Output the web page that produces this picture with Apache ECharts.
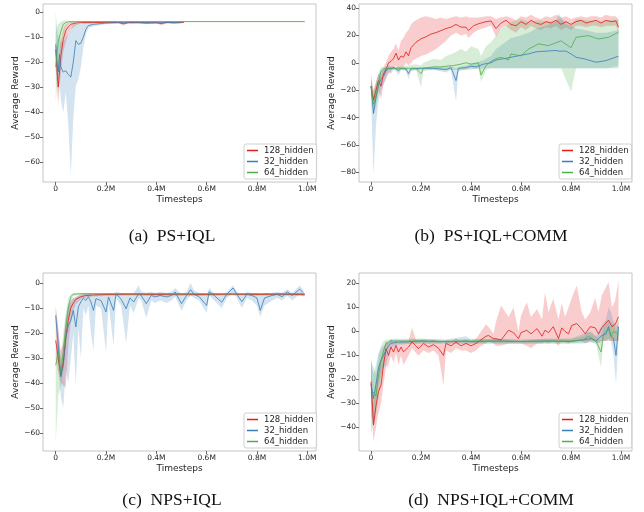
<!DOCTYPE html>
<html><head><meta charset="utf-8">
<script src="https://cdn.jsdelivr.net/npm/echarts@6/dist/echarts.min.js"></script>
<style>html,body{margin:0;padding:0;background:#fff}#c{width:644px;height:512px}</style>
</head><body><div id="c"></div>
<script>
const NAMES = ['128_hidden', '32_hidden', '64_hidden'];
const COLORS = ['#e41a1c', '#377eb8', '#4daf4a'];
const BAND_COLORS = ['rgba(228,26,28,0.22)', 'rgba(55,126,184,0.22)', 'rgba(77,175,74,0.22)'];
const CAPTIONS = ['(a)\u2002PS+IQL', '(b)\u2002PS+IQL+COMM', '(c)\u2002NPS+IQL', '(d)\u2002NPS+IQL+COMM'];
const X_TICKS = [0, 0.2, 0.4, 0.6, 0.8, 1.0];
const Y_TICKS_A = [0, -10, -20, -30, -40, -50, -60];
const Y_TICKS_B = [40, 20, 0, -20, -40, -60, -80];
const Y_TICKS_C = [0, -10, -20, -30, -40, -50, -60];
const Y_TICKS_D = [20, 10, 0, -10, -20, -30, -40];

// rows: [timesteps (M), mean, lower, upper]
const A128 = [[0,-15,-22,-10],[0.01,-30,-37,-20],[0.02,-18,-25,-12],[0.03,-11,-16,-7],[0.04,-7.5,-12,-5],[0.05,-6,-9,-4.5],[0.06,-5,-7,-4.2],[0.08,-4.5,-5.5,-4],[0.1,-4.3,-4.8,-4],[0.15,-4.3,-4.6,-4.0],[0.2,-4.2,-4.5,-4.0],[0.25,-4.3,-4.7,-4.0],[0.27,-4.8,-5.5,-4.1],[0.29,-4.2,-4.5,-4.0],[0.33,-4.3,-4.6,-4.0],[0.36,-4.5,-5.0,-4.0],[0.4,-4.3,-4.6,-4.0],[0.42,-4.7,-5.5,-4.0],[0.44,-4.2,-4.6,-4.0],[0.47,-4.4,-4.8,-4.0],[0.51,-4.2,-4.5,-4.0]];
const A32 = [[0,-13,-22,0],[0.005,-20,-28,-6],[0.01,-24,-32,-10],[0.015,-17,-25,-9],[0.02,-22,-35,-12],[0.03,-24,-40,-12],[0.04,-23.5,-32,-10],[0.05,-25,-45,-9],[0.06,-26,-65,-7],[0.07,-20,-42,-5],[0.08,-11.5,-29.5,-5],[0.09,-13,-27,-5],[0.1,-12.5,-22,-5],[0.11,-10,-14,-4.5],[0.12,-7,-9,-4.3],[0.13,-5.5,-6.5,-4.2],[0.15,-5,-5.8,-4.2],[0.2,-4.5,-5,-4.1],[0.25,-4.3,-4.6,-4.0],[0.3,-4.4,-4.8,-4.0],[0.35,-4.3,-4.6,-4.0],[0.4,-4.4,-4.8,-4.0],[0.45,-4.3,-4.6,-4.0],[0.5,-4.3,-4.6,-4.0]];
const A64 = [[0,-22,-36,-8],[0.005,-17,-30,-6],[0.01,-12,-25,-5],[0.02,-8,-16,-4],[0.03,-5,-10,-3.5],[0.04,-4.3,-6,-3.5],[0.05,-4.0,-4.5,-3.6],[0.1,-3.9,-4.2,-3.7],[0.99,-3.9,-4.2,-3.7]];

const B128 = [[0,-17,-22,-12],[0.01,-27,-32,-20],[0.02,-20,-28,-14],[0.03,-13,-20,-8],[0.04,-17,-26,-10],[0.05,-8,-16,-3],[0.06,-5,-12,0],[0.07,0,-8,5],[0.08,1,-6,8],[0.09,3,-4,10],[0.1,7,-2,14],[0.11,2,-6,9],[0.12,5,-3,16],[0.13,4,-3,18],[0.14,8,0,22],[0.15,5,-2,24],[0.16,11,0,28],[0.17,13,2,30],[0.18,15,3,31],[0.2,17.5,5,33],[0.22,19,6,34],[0.24,21,8,33],[0.26,22,10,32],[0.28,23.5,13,33],[0.3,25,16,32],[0.32,26,20,33],[0.34,28,22,34],[0.36,26,20,33],[0.38,26,21,34],[0.39,23.5,18,33],[0.41,27,22,33],[0.43,28.5,24,33],[0.46,30,26,34],[0.48,30.5,27,34],[0.5,25,19,32],[0.52,29,25,33],[0.54,31,27,34],[0.56,28,24,33],[0.58,27,22,31],[0.6,30,26,34],[0.62,28,24,33],[0.64,31,27,35],[0.66,29,25,33],[0.68,28,24,32],[0.7,30,26,34],[0.72,29,25,33],[0.74,31,27,35],[0.76,28,24,33],[0.78,30,26,34],[0.8,28,24,32],[0.82,30,27,33],[0.84,31,27,34],[0.86,29,26,33],[0.88,30,27,34],[0.9,31,27,34],[0.92,29,26,33],[0.94,31,27,35],[0.96,30,27,34],[0.98,30.5,27,34],[0.99,26,22,31]];
const B32 = [[0,-17,-25,-10],[0.01,-37,-82,-25],[0.02,-25,-45,-15],[0.03,-16,-28,-8],[0.04,-12,-20,-6],[0.05,-10,-16,-5],[0.06,-6,-10,-3],[0.07,-4,-7,-2],[0.08,-4.5,-8,-2.5],[0.09,-3.5,-5,-2.5],[0.1,-4.5,-6,-3],[0.11,-6,-9,-3.5],[0.12,-4,-5.5,-3],[0.14,-4.5,-6,-3.5],[0.15,-8,-12,-5],[0.16,-4.5,-6,-3.5],[0.2,-4,-5,-3],[0.25,-4,-5,-3],[0.3,-5,-7,-3],[0.32,-3.5,-5,-2.5],[0.34,-13,-28,-4],[0.35,-4,-6,-3],[0.38,-3.5,-5,-2],[0.4,-2.5,-4,-0.5],[0.42,-3,-4.5,0],[0.45,-1,-4,2],[0.48,0,-4,5],[0.5,2,-4,10],[0.53,3,-4,14],[0.56,4,-4,18],[0.6,5.5,-4,20],[0.63,6.5,-4,22],[0.66,8,-4,25],[0.7,8.5,-4,27],[0.74,9,-4,30],[0.75,8.5,-4,36],[0.78,8.5,-4,28],[0.8,6.5,-4,27],[0.82,4,-4,25],[0.855,2.8,-4,24],[0.9,0.4,-4,22],[0.94,1.6,-4,22],[0.99,4.8,-4,24]];
const B64 = [[0,-17,-22,-8],[0.01,-30,-38,-20],[0.02,-24,-32,-15],[0.03,-15,-22,-8],[0.04,-6,-12,-3],[0.05,-4.5,-7,-3],[0.07,-4,-5,-3],[0.1,-4,-5,-3],[0.15,-4,-5,-2],[0.18,-4,-5,-1],[0.2,-8,-18,-2],[0.21,-4,-6,0],[0.25,-3,-5,3],[0.28,-3,-5,2],[0.3,-2.5,-5,5],[0.33,-2,-5,7],[0.36,-1,-5,10],[0.38,0,-5,8],[0.4,-1,-5,12],[0.43,0,-4,10],[0.44,-9,-14,5],[0.46,-2,-5,12],[0.48,1,-4,15],[0.5,3,-4,20],[0.52,4,-4,25],[0.55,2,-4,28],[0.56,6.5,-4,30],[0.6,5,-4,32],[0.63,10,-4,30],[0.67,13.8,-4,31],[0.71,12.5,-4,30],[0.76,16,-4,32],[0.8,11,-21,28],[0.82,18.6,-4,32],[0.87,19.8,-4,31],[0.91,17.4,-4,30],[0.95,18.6,-4,31],[0.99,22.3,-2,32]];

const C128 = [[0,-23,-30,-9],[0.01,-30,-36,-18],[0.02,-37,-40,-27],[0.03,-32,-41,-24],[0.04,-22,-42,-15],[0.05,-15,-25,-10],[0.06,-10,-16,-7],[0.07,-8,-11,-6],[0.08,-6.5,-8.5,-5.5],[0.1,-5.5,-6.5,-4.8],[0.12,-5,-5.8,-4.5],[0.15,-4.8,-5.4,-4.3],[0.2,-4.6,-5.2,-4.2],[0.3,-4.5,-5,-4.1],[0.4,-4.6,-5.3,-4.1],[0.5,-4.5,-5.2,-4.0],[0.6,-4.6,-5.2,-4.1],[0.7,-4.5,-5,-4.1],[0.8,-4.6,-5.1,-4.2],[0.9,-4.5,-5,-4.1],[0.99,-4.7,-5.2,-4.2]];
const C32 = [[0,-13,-16,-10],[0.01,-25,-32,-18],[0.02,-37.6,-45,-30],[0.025,-38,-48,-30],[0.03,-33,-50,-25],[0.04,-22,-35,-14],[0.05,-17,-40,-8],[0.06,-15,-30,-8],[0.07,-11,-20,-6],[0.08,-17.6,-41,-6],[0.09,-9.6,-18,-5],[0.1,-7.6,-30,-4.5],[0.11,-6,-10,-4],[0.12,-7,-13,-4],[0.13,-5.5,-9,-4],[0.14,-7.6,-20,-4],[0.15,-11,-27,-5],[0.16,-6.3,-9,-4],[0.18,-7,-10,-4.5],[0.2,-11.6,-27.6,-4.5],[0.21,-5.6,-8,-4],[0.23,-11,-25,-4.5],[0.24,-4.3,-6,-3.5],[0.26,-6.5,-9,-4],[0.28,-10.3,-24,-4],[0.295,-6,-9,-4],[0.31,-7.6,-12,-4],[0.33,-4.3,-6,-1],[0.34,-5,-7,-3.5],[0.36,-8.3,-14,-4],[0.38,-5,-7,-3.5],[0.395,-5.6,-8,-4],[0.415,-5,-7,-3.5],[0.44,-5.6,-8,-4],[0.46,-5,-7,-3.5],[0.475,-3.6,-5.5,-2],[0.5,-8.3,-11,-4.5],[0.52,-5,-7,-3.5],[0.536,-2.7,-5,0],[0.55,-4.5,-6,-3],[0.57,-5.5,-7,-4],[0.6,-9,-12,-5],[0.61,-3.5,-5,-2],[0.63,-5,-7,-4],[0.66,-7.7,-10,-5],[0.68,-4.5,-6,-3.5],[0.705,-2,-4,-1],[0.72,-4.5,-6,-3.5],[0.74,-7.5,-10,-5],[0.76,-4.5,-6,-3.5],[0.78,-5,-7,-4],[0.8,-6,-9,-4],[0.813,-11,-13.5,-5],[0.83,-6,-9,-4],[0.86,-5,-7,-4],[0.88,-4.5,-6,-3.5],[0.9,-5.5,-7,-4],[0.92,-3.5,-5,-2.5],[0.94,-5,-7,-4],[0.97,-2.5,-4.5,-1],[0.985,-4,-5.5,-3]];
const C64 = [[0,-33,-64,-28],[0.01,-28,-45,-22],[0.02,-36,-42,-30],[0.03,-28,-35,-20],[0.04,-18,-25,-12],[0.05,-10,-15,-6],[0.06,-5.5,-8,-4.5],[0.07,-4.5,-5.2,-4],[0.1,-4.3,-4.7,-4],[0.99,-4.3,-4.7,-4]];

const D128 = [[0,-21,-28,-12],[0.01,-39,-46,-30],[0.02,-31,-40,-22],[0.03,-25,-34,-15],[0.04,-22.5,-30,-12],[0.05,-14,-22,-8],[0.06,-7.2,-15,-4],[0.07,-10,-14,-5],[0.08,-6.5,-10,-3],[0.09,-8.6,-13,-5],[0.1,-5.8,-9,-4],[0.11,-8.6,-14,-5],[0.12,-6.5,-10,-4],[0.13,-8.5,-14,-4.5],[0.15,-6.5,-10,-4],[0.164,-4.4,-7,1.5],[0.18,-6,-9,-3.5],[0.19,-7.2,-10,-4],[0.21,-5,-8,-3.5],[0.23,-6.5,-9,-4],[0.25,-5.5,-8,-3.5],[0.27,-7,-10,-4],[0.29,-10,-22.5,-5],[0.3,-5,-8,-3.5],[0.32,-6,-9,-4],[0.34,-4.5,-7,-3],[0.36,-6,-8,-4],[0.38,-5,-8,-3.5],[0.4,-6,-9,-4],[0.42,-5,-8,-3],[0.44,-3.5,-6,0],[0.46,-2,-5,3],[0.47,-1.7,-4,2],[0.49,-3,-5,-1],[0.5,-3,-6,4],[0.52,-3.6,-6,10.8],[0.55,0.5,-5,6],[0.57,-0.5,-5,10],[0.59,-3,-5,0],[0.6,-0.5,-5,6.7],[0.623,0.5,-6,12.2],[0.64,-1,-7,6],[0.664,1.2,-5,9.4],[0.684,-2,-5,5],[0.696,0.5,-4.5,16.4],[0.71,-0.5,-5,8],[0.729,2,-4,13.6],[0.75,-3,-6,5],[0.763,1.5,-4,12],[0.776,0,-4.5,6],[0.79,-1,-5,10],[0.803,2.5,-4,14],[0.823,3.3,-4,19.2],[0.843,1,-4,8],[0.857,-1,-5,5],[0.877,2,-4,8],[0.897,1.5,-4,14],[0.91,-1,-5,8],[0.923,1.5,-4,15],[0.95,4.7,-4,20.6],[0.964,2,-4,10],[0.977,3,-4,13],[0.99,6.1,-4,21.3]];
const D32 = [[0,-22,-35,-12],[0.01,-28,-40,-18],[0.02,-22,-30,-14],[0.03,-15,-22,-9],[0.04,-12,-18,-7],[0.05,-10,-15,-6],[0.06,-8,-14,-5],[0.07,-6,-10,-4],[0.08,-5,-7,-3.5],[0.1,-4.5,-5.5,-3.5],[0.15,-4.3,-5.2,-3.5],[0.2,-4,-5,-3],[0.3,-4.3,-5,-3.5],[0.38,-4,-5,-2],[0.4,-4.3,-5,-3.5],[0.5,-4,-5,-3],[0.6,-4.2,-5,-3.5],[0.7,-4,-5,-3],[0.8,-4.2,-5,-3],[0.85,-3.5,-5,-1],[0.88,-3,-4.5,0],[0.9,-4,-5,-2],[0.92,-2,-4,2],[0.94,-1,-4,5],[0.95,2,-3,10],[0.96,-2,-4,8],[0.97,-3,-10,4],[0.98,-10,-22,0],[0.99,2,-3,5]];
const D64 = [[0,-25,-43,-12],[0.01,-25.5,-38,-15],[0.02,-27,-35,-18],[0.03,-18,-28,-10],[0.04,-12,-20,-6],[0.05,-8,-14,-4],[0.06,-5,-8,-3.5],[0.07,-4.5,-6,-3.5],[0.08,-4,-5,-3],[0.2,-4,-5,-3],[0.3,-4.2,-5,-3.5],[0.4,-4,-5,-3],[0.5,-4,-5,-3],[0.6,-4.2,-5,-3.5],[0.7,-4,-5,-3],[0.8,-4,-5,-3],[0.85,-3.5,-4.5,-2],[0.87,-2,-4,0],[0.9,-4,-5,-2],[0.92,-8.6,-15,-4],[0.93,-1,-4,2],[0.95,1,-3,4],[0.96,-2,-4,2],[0.97,0,-4,4],[0.99,-1,-4,2]];

const PANELS = [
  {grid:{left:43,top:4,width:273,height:178}, x:[-0.0505,1.0346], y:[-67.8,3.1], yt:Y_TICKS_A, data:[A128,A32,A64], lg:{left:244,top:144}, cap:[167,233]},
  {grid:{left:359,top:4,width:273,height:178}, x:[-0.048,1.044], y:[-87,42.9], yt:Y_TICKS_B, data:[B128,B32,B64], lg:{left:559,top:144}, cap:[486,233]},
  {grid:{left:43,top:273,width:273,height:178}, x:[-0.0505,1.0346], y:[-67.3,4.0], yt:Y_TICKS_C, data:[C128,C32,C64], lg:{left:244,top:413}, cap:[167,497]},
  {grid:{left:359,top:273,width:273,height:178}, x:[-0.048,1.044], y:[-49.9,24.4], yt:Y_TICKS_D, data:[D128,D32,D64], lg:{left:559,top:413}, cap:[486,497]}
];

const FONT = 'DejaVu Sans';
const grids = [], xAxes = [], yAxes = [], series = [], legends = [], titles = [];

function bandSeries(i, rows, fill) {
  return {type:'custom', xAxisIndex:i, yAxisIndex:i, silent:true, z:1, clip:true,
    data: rows.map(r => [r[0], r[2], r[3]]),
    encode:{x:0, y:[1, 2]},
    renderItem:(params, api) => {
      if (params.dataIndex !== 0) return null;
      const up = rows.map(r => api.coord([r[0], r[3]]));
      const lo = rows.map(r => api.coord([r[0], r[2]])).reverse();
      return {type:'polygon', shape:{points:up.concat(lo)}, style:{fill:fill, stroke:null}};
    }};
}

PANELS.forEach((p, i) => {
  grids.push(Object.assign({show:true, borderColor:'#c4c4c4', borderWidth:1, containLabel:false}, p.grid));
  xAxes.push({gridIndex:i, type:'value', min:p.x[0], max:p.x[1],
    axisLine:{show:false, onZero:false}, splitLine:{show:false},
    axisTick:{show:true, customValues:X_TICKS, length:3, lineStyle:{color:'#444', width:0.8}},
    axisLabel:{customValues:X_TICKS, fontSize:7.5, fontFamily:FONT, color:'#262626', margin:3,
      formatter:v => v === 0 ? '0' : v.toFixed(1) + 'M'},
    name:'Timesteps', nameLocation:'middle', nameGap:13,
    nameTextStyle:{fontSize:9, fontFamily:FONT, color:'#262626'}});
  yAxes.push({gridIndex:i, type:'value', min:p.y[0], max:p.y[1],
    axisLine:{show:false, onZero:false}, splitLine:{show:false},
    axisTick:{show:true, customValues:p.yt, length:3, lineStyle:{color:'#444', width:0.8}},
    axisLabel:{customValues:p.yt, fontSize:7.5, fontFamily:FONT, color:'#262626', margin:3,
      formatter:v => v < 0 ? '\u2212' + (-v) : String(v)},
    name:'Average Reward', nameLocation:'middle', nameGap:19,
    nameTextStyle:{fontSize:9, fontFamily:FONT, color:'#262626'}});
  p.data.forEach((rows, k) => series.push(bandSeries(i, rows, BAND_COLORS[k])));
  p.data.forEach((rows, k) => {
    series.push({type:'line', name:NAMES[k], xAxisIndex:i, yAxisIndex:i, symbol:'none', silent:true,
      color:COLORS[k], lineStyle:{width:1, color:COLORS[k], opacity:0.8},
      data:rows.map(r => [r[0], r[1]]), z:3});
  });
  legends.push({data:NAMES, orient:'vertical', left:p.lg.left, top:p.lg.top,
    icon:'rect', itemWidth:11, itemHeight:1.5, itemGap:0, padding:[1,3,1,3],
    borderColor:'#d0d0d0', borderWidth:1, borderRadius:2, backgroundColor:'rgba(255,255,255,0.8)',
    selectedMode:false,
    textStyle:{fontSize:8.5, fontFamily:FONT, color:'#262626', lineHeight:11, padding:[0,0,0,1]}});
  titles.push({text:CAPTIONS[i], left:p.cap[0], top:p.cap[1] - 11, textAlign:'center',
    textStyle:{fontFamily:'Liberation Serif', fontWeight:'normal', fontSize:17.5, color:'#111'}});
});

const chart = echarts.init(document.getElementById('c'), null, {renderer:'canvas'});
chart.setOption({animation:false, backgroundColor:'#fff', title:titles, grid:grids, xAxis:xAxes, yAxis:yAxes, legend:legends, series:series});
</script>
</body></html>
